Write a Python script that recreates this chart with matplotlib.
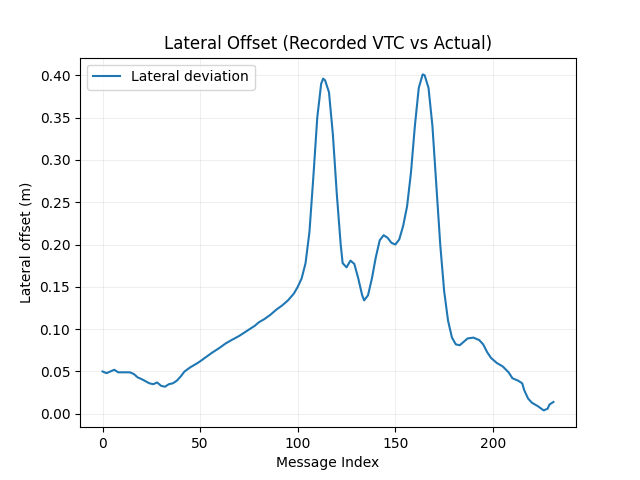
import matplotlib
matplotlib.use("Agg")
import matplotlib.pyplot as plt

idx = [0,2,4,6,8,10,14,16,18,20,24,26,28,30,32,34,36,38,40,42,45,48,50,53,56,60,63,66,70,74,78,80,83,86,89,92,95,98,100,102,104,106,108,110,112,113,114,116,118,120,122,123,125,127,129,131,133,134,136,138,140,142,144,146,148,150,152,154,156,158,160,162,164,165,167,169,171,173,175,177,179,181,183,185,187,190,193,195,197,199,202,205,208,210,213,215,216,218,220,223,226,228,229,231]
offset = [0.050,0.048,0.050,0.052,0.049,0.049,0.049,0.047,0.043,0.041,0.036,0.035,0.037,0.033,0.032,0.035,0.036,0.039,0.044,0.050,0.055,0.059,0.062,0.067,0.072,0.078,0.083,0.087,0.092,0.098,0.104,0.108,0.112,0.117,0.123,0.128,0.134,0.142,0.150,0.160,0.178,0.215,0.280,0.350,0.390,0.396,0.394,0.380,0.330,0.260,0.200,0.178,0.173,0.181,0.177,0.160,0.140,0.134,0.140,0.160,0.185,0.205,0.211,0.208,0.202,0.200,0.206,0.222,0.245,0.285,0.340,0.385,0.401,0.400,0.385,0.340,0.270,0.200,0.145,0.110,0.090,0.082,0.081,0.085,0.089,0.090,0.087,0.082,0.073,0.066,0.060,0.056,0.049,0.042,0.039,0.036,0.028,0.018,0.013,0.009,0.004,0.006,0.011,0.014]

fig, ax = plt.subplots(figsize=(6.4, 4.8), dpi=100)
ax.plot(idx, offset, label="Lateral deviation")
ax.set_title("Lateral Offset (Recorded VTC vs Actual)")
ax.set_xlabel("Message Index")
ax.set_ylabel("Lateral offset (m)")
ax.grid(True, alpha=0.3, linewidth=0.5)
ax.legend(loc="upper left")
fig.savefig("out.png")
